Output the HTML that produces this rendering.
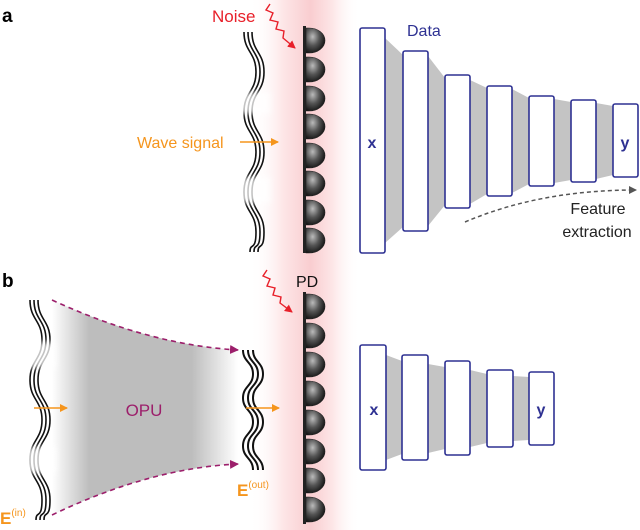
<!DOCTYPE html>
<html><head><meta charset="utf-8"><style>
body{margin:0;background:#fff}
svg{display:block;font-family:"Liberation Sans",Arial,sans-serif}
</style></head><body>
<svg width="640" height="530" viewBox="0 0 640 530" xmlns="http://www.w3.org/2000/svg">
<defs>
<linearGradient id="glow" x1="0" x2="1" y1="0" y2="0">
<stop offset="0" stop-color="#fff" stop-opacity="0"/>
<stop offset="0.3" stop-color="#fde6e7"/>
<stop offset="0.55" stop-color="#f9cdd0"/>
<stop offset="0.75" stop-color="#fde6e7"/>
<stop offset="1" stop-color="#fff" stop-opacity="0"/>
</linearGradient>
<linearGradient id="opu" x1="0" x2="1" y1="0" y2="0">
<stop offset="0" stop-color="#fff"/>
<stop offset="0.2" stop-color="#bdbdbd"/>
<stop offset="0.75" stop-color="#bdbdbd"/>
<stop offset="1" stop-color="#fff"/>
</linearGradient>
<radialGradient id="dome" cx="0.35" cy="0.35" r="0.7">
<stop offset="0" stop-color="#bbb"/>
<stop offset="0.5" stop-color="#555"/>
<stop offset="1" stop-color="#111"/>
</radialGradient>
<filter id="bl"><feGaussianBlur stdDeviation="3"/></filter>
<marker id="ao" markerWidth="8" markerHeight="8" refX="7" refY="4" orient="auto" markerUnits="userSpaceOnUse"><path d="M0,0 L8,4 L0,8 z" fill="#f5951d"/></marker>
<marker id="ar" markerWidth="8" markerHeight="8" refX="7" refY="4" orient="auto" markerUnits="userSpaceOnUse"><path d="M0,0 L8,4 L0,8 z" fill="#e8202a"/></marker>
<marker id="ap" markerWidth="9" markerHeight="9" refX="8" refY="4.5" orient="auto" markerUnits="userSpaceOnUse"><path d="M0,0 L9,4.5 L0,9 z" fill="#9c1f6b"/></marker>
<marker id="ag" markerWidth="8" markerHeight="8" refX="7" refY="4" orient="auto" markerUnits="userSpaceOnUse"><path d="M0,0 L8,4 L0,8 z" fill="#555"/></marker>
</defs>

<rect x="250" y="0" width="110" height="530" fill="url(#glow)"/>

<text x="2" y="22" font-size="19" font-weight="bold">a</text>
<text x="2" y="287" font-size="19" font-weight="bold">b</text>

<path d="M52,300 Q150,345 238,350 L238,464 Q150,468 52,515 Z" fill="url(#opu)"/>
<path d="M52,300 Q150,345 238,350" fill="none" stroke="#9c1f6b" stroke-width="1.6" stroke-dasharray="5,4" marker-end="url(#ap)"/>
<path d="M52,515 Q150,468 238,464" fill="none" stroke="#9c1f6b" stroke-width="1.6" stroke-dasharray="5,4" marker-end="url(#ap)"/>
<text x="144" y="416" font-size="17" fill="#9c1f6b" text-anchor="middle">OPU</text>

<g fill="none" stroke="#111" stroke-width="1.6">
<path d="M244,32 c0,20 12,20 12,40 s-12,20 -12,40 s12,20 12,40 s-12,20 -12,40 s12,20 12,40 s-6,10 -6,20"/>
<path d="M248,32 c0,20 12,20 12,40 s-12,20 -12,40 s12,20 12,40 s-12,20 -12,40 s12,20 12,40 s-6,10 -6,20"/>
<path d="M252,32 c0,20 12,20 12,40 s-12,20 -12,40 s12,20 12,40 s-12,20 -12,40 s12,20 12,40 s-6,10 -6,20"/>
<path d="M30,300 c0,20 12,20 12,40 s-12,20 -12,40 s12,20 12,40 s-12,20 -12,40 s12,20 12,40 s-6,10 -6,20"/>
<path d="M34,300 c0,20 12,20 12,40 s-12,20 -12,40 s12,20 12,40 s-12,20 -12,40 s12,20 12,40 s-6,10 -6,20"/>
<path d="M38,300 c0,20 12,20 12,40 s-12,20 -12,40 s12,20 12,40 s-12,20 -12,40 s12,20 12,40 s-6,10 -6,20"/>
<g stroke-width="2">
<path d="M243,350 c0,12 10,12 10,24 s-10,12 -10,24 s10,12 10,24 s-10,12 -10,24 s10,12 10,24"/>
<path d="M248,350 c0,12 10,12 10,24 s-10,12 -10,24 s10,12 10,24 s-10,12 -10,24 s10,12 10,24"/>
<path d="M253,350 c0,12 10,12 10,24 s-10,12 -10,24 s10,12 10,24 s-10,12 -10,24 s10,12 10,24"/>
</g>
</g>
<g fill="#fff" opacity="0.75" filter="url(#bl)">
<rect x="238" y="92" width="32" height="22"/>
<rect x="238" y="177" width="32" height="26"/>
<rect x="24" y="342" width="32" height="26"/>
<rect x="24" y="447" width="32" height="26"/>
</g>

<text x="137" y="148" font-size="16" fill="#f5951d">Wave signal</text>
<line x1="240" y1="142" x2="278" y2="142" stroke="#f5951d" stroke-width="1.6" marker-end="url(#ao)"/>
<line x1="34" y1="408" x2="67" y2="408" stroke="#f5951d" stroke-width="1.6" marker-end="url(#ao)"/>
<line x1="246" y1="408" x2="279" y2="408" stroke="#f5951d" stroke-width="1.6" marker-end="url(#ao)"/>
<text x="0" y="524" font-size="17" font-weight="bold" fill="#f5951d">E<tspan font-size="10" font-weight="normal" dy="-8">(in)</tspan></text>
<text x="237" y="496" font-size="17" font-weight="bold" fill="#f5951d">E<tspan font-size="10" font-weight="normal" dy="-8">(out)</tspan></text>

<text x="212" y="22" font-size="17" fill="#e8202a">Noise</text>
<path d="M270,4 l-4,6 l7,3 l-3,7 l8,2 l-2,7 l8,2 l-1,7 l12,10" fill="none" stroke="#e8202a" stroke-width="1.4" marker-end="url(#ar)"/>
<path d="M267,270 l-4,6 l7,3 l-3,7 l8,2 l-2,7 l8,2 l-1,6 l12,9" fill="none" stroke="#e8202a" stroke-width="1.4" marker-end="url(#ar)"/>
<text x="296" y="287" font-size="16" fill="#111">PD</text>

<rect x="303" y="26" width="3" height="227" fill="#222"/>
<g fill="url(#dome)" stroke="#222" stroke-width="0.6">
<path d="M306,28 h3 a16,12.5 0 0 1 0,25 h-3 z"/>
<path d="M306,57 h3 a16,12.5 0 0 1 0,25 h-3 z"/>
<path d="M306,86 h3 a16,12.5 0 0 1 0,25 h-3 z"/>
<path d="M306,114 h3 a16,12.5 0 0 1 0,25 h-3 z"/>
<path d="M306,143 h3 a16,12.5 0 0 1 0,25 h-3 z"/>
<path d="M306,171 h3 a16,12.5 0 0 1 0,25 h-3 z"/>
<path d="M306,200 h3 a16,12.5 0 0 1 0,25 h-3 z"/>
<path d="M306,228 h3 a16,12.5 0 0 1 0,25 h-3 z"/>
</g>
<rect x="303" y="292" width="3" height="232" fill="#222"/>
<g fill="url(#dome)" stroke="#222" stroke-width="0.6">
<path d="M306,294 h3 a16,12.5 0 0 1 0,25 h-3 z"/>
<path d="M306,323 h3 a16,12.5 0 0 1 0,25 h-3 z"/>
<path d="M306,352 h3 a16,12.5 0 0 1 0,25 h-3 z"/>
<path d="M306,381 h3 a16,12.5 0 0 1 0,25 h-3 z"/>
<path d="M306,410 h3 a16,12.5 0 0 1 0,25 h-3 z"/>
<path d="M306,439 h3 a16,12.5 0 0 1 0,25 h-3 z"/>
<path d="M306,468 h3 a16,12.5 0 0 1 0,25 h-3 z"/>
<path d="M306,497 h3 a16,12.5 0 0 1 0,25 h-3 z"/>
</g>

<g fill="#c4c4c4">
<polygon points="385,38 403,55 403,227 385,243"/>
<polygon points="428,56 445,78 445,205 428,226"/>
<polygon points="470,80 487,88 487,194 470,204"/>
<polygon points="512,89 529,98 529,184 512,193"/>
<polygon points="554,99 571,102 571,180 554,183"/>
<polygon points="596,103 613,106 613,175 596,179"/>
</g>
<g fill="#fff" stroke="#2e3192" stroke-width="1.6">
<rect x="360" y="28" width="25" height="225" rx="2"/>
<rect x="403" y="51" width="25" height="180" rx="2"/>
<rect x="445" y="75" width="25" height="133" rx="2"/>
<rect x="487" y="86" width="25" height="110" rx="2"/>
<rect x="529" y="96" width="25" height="90" rx="2"/>
<rect x="571" y="100" width="25" height="82" rx="2"/>
<rect x="613" y="104" width="25" height="73" rx="2"/>
</g>
<text x="407" y="36" font-size="16" fill="#2e3192">Data</text>
<text x="372" y="148" font-size="16" font-weight="bold" fill="#2e3192" text-anchor="middle">x</text>
<text x="625" y="148" font-size="16" font-weight="bold" fill="#2e3192" text-anchor="middle">y</text>
<path d="M465,222 Q540,190 636,190" fill="none" stroke="#555" stroke-width="1.5" stroke-dasharray="4,3" marker-end="url(#ag)"/>
<text x="598" y="214" font-size="16" fill="#222" text-anchor="middle">Feature</text>
<text x="597" y="237" font-size="16" fill="#222" text-anchor="middle">extraction</text>

<g fill="#c4c4c4">
<polygon points="386,355 402,361 402,454 386,460"/>
<polygon points="428,364 445,367 445,449 428,453"/>
<polygon points="470,370 487,374 487,443 470,447"/>
<polygon points="513,376 529,377 529,440 513,441"/>
</g>
<g fill="#fff" stroke="#2e3192" stroke-width="1.6">
<rect x="360" y="345" width="26" height="125" rx="2"/>
<rect x="402" y="355" width="26" height="105" rx="2"/>
<rect x="445" y="361" width="25" height="94" rx="2"/>
<rect x="487" y="370" width="26" height="77" rx="2"/>
<rect x="529" y="372" width="25" height="73" rx="2"/>
</g>
<text x="374" y="415" font-size="16" font-weight="bold" fill="#2e3192" text-anchor="middle">x</text>
<text x="541" y="415" font-size="16" font-weight="bold" fill="#2e3192" text-anchor="middle">y</text>
</svg>
</body></html>
